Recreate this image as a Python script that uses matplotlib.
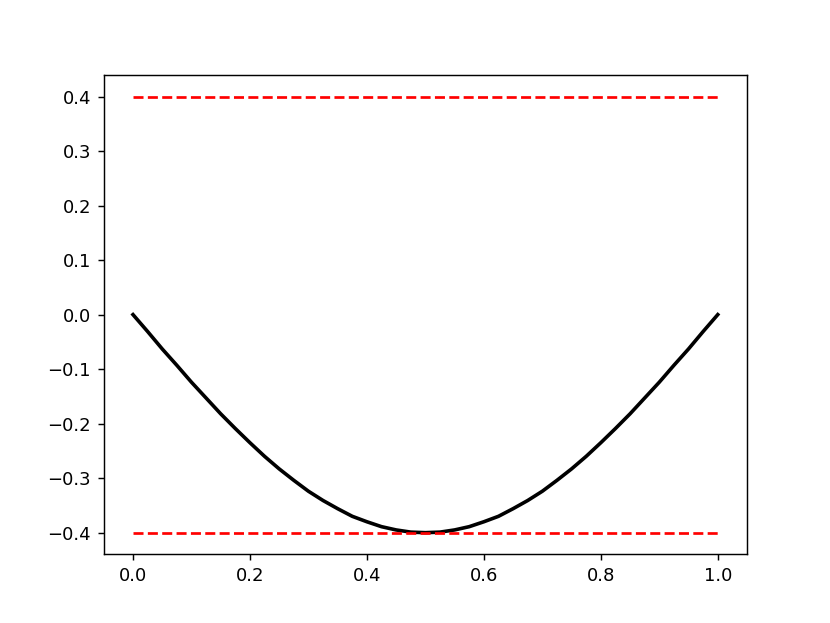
"""
Curve dipping to -0.4 between two dashed bounds at +/-0.4.
"""
import matplotlib
matplotlib.use("Agg")
import matplotlib.pyplot as plt

# -----------------------------------------------------------------------------
# Data
# -----------------------------------------------------------------------------
x_vals = [0.000, 0.025, 0.050, 0.075, 0.100, 0.125, 0.150, 0.175, 0.200, 0.225,
          0.250, 0.275, 0.300, 0.325, 0.350, 0.375, 0.400, 0.425, 0.450, 0.475,
          0.500, 0.525, 0.550, 0.575, 0.600, 0.625, 0.650, 0.675, 0.700, 0.725,
          0.750, 0.775, 0.800, 0.825, 0.850, 0.875, 0.900, 0.925, 0.950, 0.975,
          1.000]
y_vals = [0.000, -0.031, -0.063, -0.093, -0.124, -0.153, -0.182, -0.209, -0.235, -0.260,
          -0.283, -0.304, -0.324, -0.341, -0.356, -0.370, -0.380, -0.389, -0.395, -0.399,
          -0.400, -0.399, -0.395, -0.389, -0.380, -0.370, -0.356, -0.341, -0.324, -0.304,
          -0.283, -0.260, -0.235, -0.209, -0.182, -0.153, -0.124, -0.093, -0.063, -0.031,
          0.000]

bound_x = [0.0, 1.0]
upper_bound = [0.4, 0.4]
lower_bound = [-0.4, -0.4]

# -----------------------------------------------------------------------------
# Plot
# -----------------------------------------------------------------------------
fig, ax = plt.subplots(figsize=(830 / 130, 623 / 130), dpi=130)
ax.plot(x_vals, y_vals, color="black", linewidth=2, solid_joinstyle="round")
ax.plot(bound_x, upper_bound, "r--", linewidth=1.5)
ax.plot(bound_x, lower_bound, "r--", linewidth=1.5)

plt.savefig("out.png", dpi=130)
plt.close()
